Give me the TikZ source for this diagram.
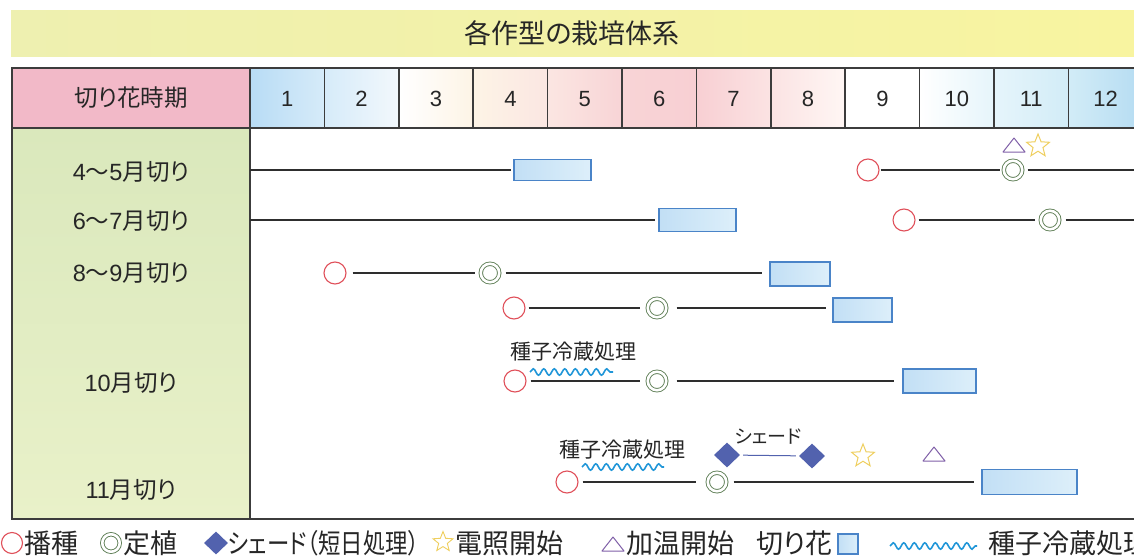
\documentclass[tikz,border=0pt]{standalone}
\usepackage{graphicx}
\usepackage{fontspec}
\setmainfont{Noto Sans CJK JP}[RawFeature=+palt]
\newfontfamily\lat{Liberation Sans}
\usetikzlibrary{shapes.geometric,decorations.pathmorphing}
\definecolor{bandl}{HTML}{EEF0B0}
\definecolor{bandr}{HTML}{F8F4A0}
\definecolor{hdrpink}{HTML}{F2B9C8}
\definecolor{gtop}{HTML}{DAE8BC}
\definecolor{gbot}{HTML}{E9F1C9}
\definecolor{mA}{HTML}{B8DCF5}
\definecolor{mB}{HTML}{D6EBF9}
\definecolor{mC}{HTML}{F2F8FC}
\definecolor{mD}{HTML}{FFFFFF}
\definecolor{mE}{HTML}{FDF4E6}
\definecolor{mF}{HTML}{FBE6E2}
\definecolor{mG}{HTML}{F8D4D6}
\definecolor{mH}{HTML}{F8CFD3}
\definecolor{mI}{HTML}{FBE3E3}
\definecolor{mJ}{HTML}{FFF6F4}
\definecolor{mK}{HTML}{E6F5FB}
\definecolor{mL}{HTML}{D2ECF7}
\definecolor{mM}{HTML}{B5DCF2}
\definecolor{cutl}{HTML}{C2DFF5}
\definecolor{cutr}{HTML}{DDEFFA}
\definecolor{cutc}{HTML}{4A84C8}
\definecolor{sowc}{HTML}{E0505A}
\definecolor{plantc}{HTML}{5E7E55}
\definecolor{shadec}{HTML}{5262AE}
\definecolor{starc}{HTML}{EFCF5E}
\definecolor{tric}{HTML}{8060A8}
\definecolor{coolc}{HTML}{2096D8}
\definecolor{linec}{HTML}{2E2E2E}
\definecolor{gridc}{HTML}{3C3C3C}
\definecolor{textc}{HTML}{262626}
\tikzset{
  sow/.style={circle, draw=sowc, line width=1.1pt, minimum size=22pt, inner sep=0pt},
  plant/.style={circle, draw=plantc, line width=0.9pt, minimum size=18.5pt, inner sep=0pt, double=white, double distance=2.6pt},
  cutbox/.style={rectangle, draw=cutc, line width=1.4pt, left color=cutl, right color=cutr, inner sep=0pt},
  link/.style={draw=linec, line width=1.5pt},
  shadenode/.style={diamond, fill=shadec, minimum width=26pt, minimum height=25pt, inner sep=0pt},
  lamp/.style={star, star points=5, star point ratio=2.3, draw=starc, line width=1pt, minimum size=24pt, inner sep=0pt},
  cool/.style={draw=coolc, line width=1.6pt, decorate, decoration={snake, segment length=10.5pt, amplitude=3.2pt}},
  lbl/.style={font=\fontsize{23.5}{23.5}\selectfont, text=textc, inner sep=0pt},
  mon/.style={font=\lat\fontsize{22}{22}\selectfont, text=textc, inner sep=0pt},
  leg/.style={font=\fontsize{27}{27}\selectfont, text=textc, inner sep=0pt, anchor=west},
  heat/.pic={\draw[tric, line width=1pt, line join=round] (-11,7) -- (11,7) -- (0,-7) -- cycle;},
}
\begin{document}
\begin{tikzpicture}[x=1pt,y=-1pt]
\useasboundingbox (0,0) rectangle (1134,559);
\clip (0,0) rectangle (1134,559);
\fill[white] (0,0) rectangle (1134,559);
% title band
\fill[left color=bandl, right color=bandr] (11,11) rectangle (1134,57);
\node[font=\fontsize{27}{27}\selectfont, text=textc, inner sep=0pt] (title) at (572,33) {各作型の栽培体系};
% header cells
\fill[hdrpink] (12,68) rectangle (250,128);
\foreach \i/\cl/\cr in {1/mA/mB, 2/mB/mC, 3/mD/mE, 4/mE/mF, 5/mF/mG, 6/mG/mH, 7/mH/mI, 8/mI/mJ, 9/mD/mD, 10/mD/mK, 11/mK/mL, 12/mL/mM}{
  \fill[left color=\cl, right color=\cr] ({250+74.4*(\i-1)},68) rectangle ({250+74.4*\i},128);
  \node[mon] (m\i) at ({250+74.4*(\i-0.5)},99) {\i};
}
% label column
\fill[top color=gtop, bottom color=gbot] (12,128) rectangle (250,519);
% grid
\foreach \i in {1,...,11}{
  \draw[gridc, line width=1.5pt] ({250+74.4*\i},68) -- ({250+74.4*\i},128);
}
\draw[gridc, line width=1.8pt] (250,68) -- (250,519);
\draw[gridc, line width=2pt] (12,128) -- (1150,128);
\draw[gridc, line width=2.6pt] (12,68) rectangle (1150,519);
% header and row labels
\node[lbl] (hd) at (131,98) {切り花時期};
\node[lbl] (l1) at (131,172) {{\lat 4}〜{\lat 5}月切り};
\node[lbl] (l2) at (131,221) {{\lat 6}〜{\lat 7}月切り};
\node[lbl] (l3) at (131,273) {{\lat 8}〜{\lat 9}月切り};
\node[lbl] (l4) at (131,383) {{\lat 10}月切り};
\node[lbl] (l5) at (131,490) {{\lat 11}月切り};

% row 1 (4-5)
\coordinate (r1s) at (250,170);
\node[cutbox, minimum width=77pt, minimum height=21pt] (r1c) at (552.5,170) {};
\node[sow] (r1a) at (868,170) {};
\node[plant] (r1b) at (1013,170) {};
\coordinate (r1e) at (1145,170);
\draw[link, shorten >=2pt] (r1s) -- (r1c);
\draw[link, shorten <=1pt, shorten >=3pt] (r1a) -- (r1b);
\draw[link, shorten <=5pt] (r1b) -- (r1e);
\pic at (1014,145) {heat};
\node[lamp] (r1l) at (1038,146) {};

% row 2 (6-7)
\coordinate (r2s) at (250,220);
\node[cutbox, minimum width=77pt, minimum height=23pt] (r2c) at (697.5,220) {};
\node[sow] (r2a) at (904,220) {};
\node[plant] (r2b) at (1050,220) {};
\coordinate (r2e) at (1145,220);
\draw[link, shorten >=3pt] (r2s) -- (r2c);
\draw[link, shorten <=3pt, shorten >=5pt] (r2a) -- (r2b);
\draw[link, shorten <=6pt] (r2b) -- (r2e);

% row 3 (8-9 a)
\node[sow] (r3a) at (335,273) {};
\node[plant] (r3b) at (490,273) {};
\node[cutbox, minimum width=60pt, minimum height=24pt] (r3c) at (800,274) {};
\draw[link, shorten <=6pt, shorten >=5pt] (r3a) -- (r3b);
\draw[link, shorten <=6pt, shorten >=7pt] (r3b) -- (r3c.west |- r3b);

% row 4 (8-9 b)
\node[sow] (r4a) at (514,308) {};
\node[plant] (r4b) at (657,308) {};
\node[cutbox, minimum width=59pt, minimum height=24pt] (r4c) at (862.5,310) {};
\draw[link, shorten <=3pt, shorten >=7pt] (r4a) -- (r4b);
\draw[link, shorten <=10pt, shorten >=6pt] (r4b) -- (r4c.west |- r4b);

% row 5 (10 with seed cooling)
\node[lbl, font=\fontsize{21}{21}\selectfont] (t5) at (573,352) {種子冷蔵処理};
\coordinate (w5a) at (530,372);
\coordinate (w5b) at (613,372);
\draw[cool] (w5a) -- (w5b);
\node[sow] (r5a) at (515,381) {};
\node[plant] (r5b) at (657,381) {};
\node[cutbox, minimum width=73pt, minimum height=24pt] (r5c) at (939.5,381) {};
\draw[link, shorten <=4pt, shorten >=7pt] (r5a) -- (r5b);
\draw[link, shorten <=10pt, shorten >=8pt] (r5b) -- (r5c);

% row 6 (11)
\node[lbl, font=\fontsize{21}{21}\selectfont] (t6) at (622,450) {種子冷蔵処理};
\coordinate (w6a) at (582,467);
\coordinate (w6b) at (664,467);
\draw[cool] (w6a) -- (w6b);
\node[shadenode] (d1) at (727,455) {};
\node[shadenode] (d2) at (812,456) {};
\draw[shadec, line width=1pt, shorten <=3pt, shorten >=3pt] (d1) -- (d2);
\node[lbl, font=\fontsize{19}{19}\selectfont] (t6s) at (768,437) {シェード};
\node[lamp] (r6l) at (863,456) {};
\pic at (934,454) {heat};
\node[sow] (r6a) at (567,482) {};
\node[plant] (r6b) at (717,482) {};
\node[cutbox, minimum width=95pt, minimum height=25pt] (r6c) at (1029.5,482) {};
\draw[link, shorten <=4pt, shorten >=11pt] (r6a) -- (r6b);
\draw[link, shorten <=7pt, shorten >=7pt] (r6b) -- (r6c);

% legend
\node[sow, minimum size=21pt] (ga) at (12,543) {};
\node[leg] (gat) at (24,543) {播種};
\node[plant, minimum size=17.5pt] (gb) at (111,543) {};
\node[leg] (gbt) at (123,543) {定植};
\node[shadenode, minimum width=24pt, minimum height=23pt] (gc) at (216,543) {};
\node[leg] (gct) at (228,543) {\scalebox{0.83}[1]{シェード（短日処理）}};
\node[lamp, minimum size=21pt, line width=0.9pt] (gd) at (443,542) {};
\node[leg] (gdt) at (455,543) {電照開始};
\pic at (613,544) {heat};
\node[leg] (get) at (626,543) {加温開始};
\node[leg] (gft) at (756,543) {切り花};
\node[cutbox, minimum width=20pt, minimum height=20pt, line width=1.2pt] (gf) at (848,544) {};
\coordinate (gwa) at (890,546);
\coordinate (gwb) at (977,546);
\draw[cool] (gwa) -- (gwb);
\node[leg] (ggt) at (988,543) {種子冷蔵処理};
\end{tikzpicture}
\end{document}
